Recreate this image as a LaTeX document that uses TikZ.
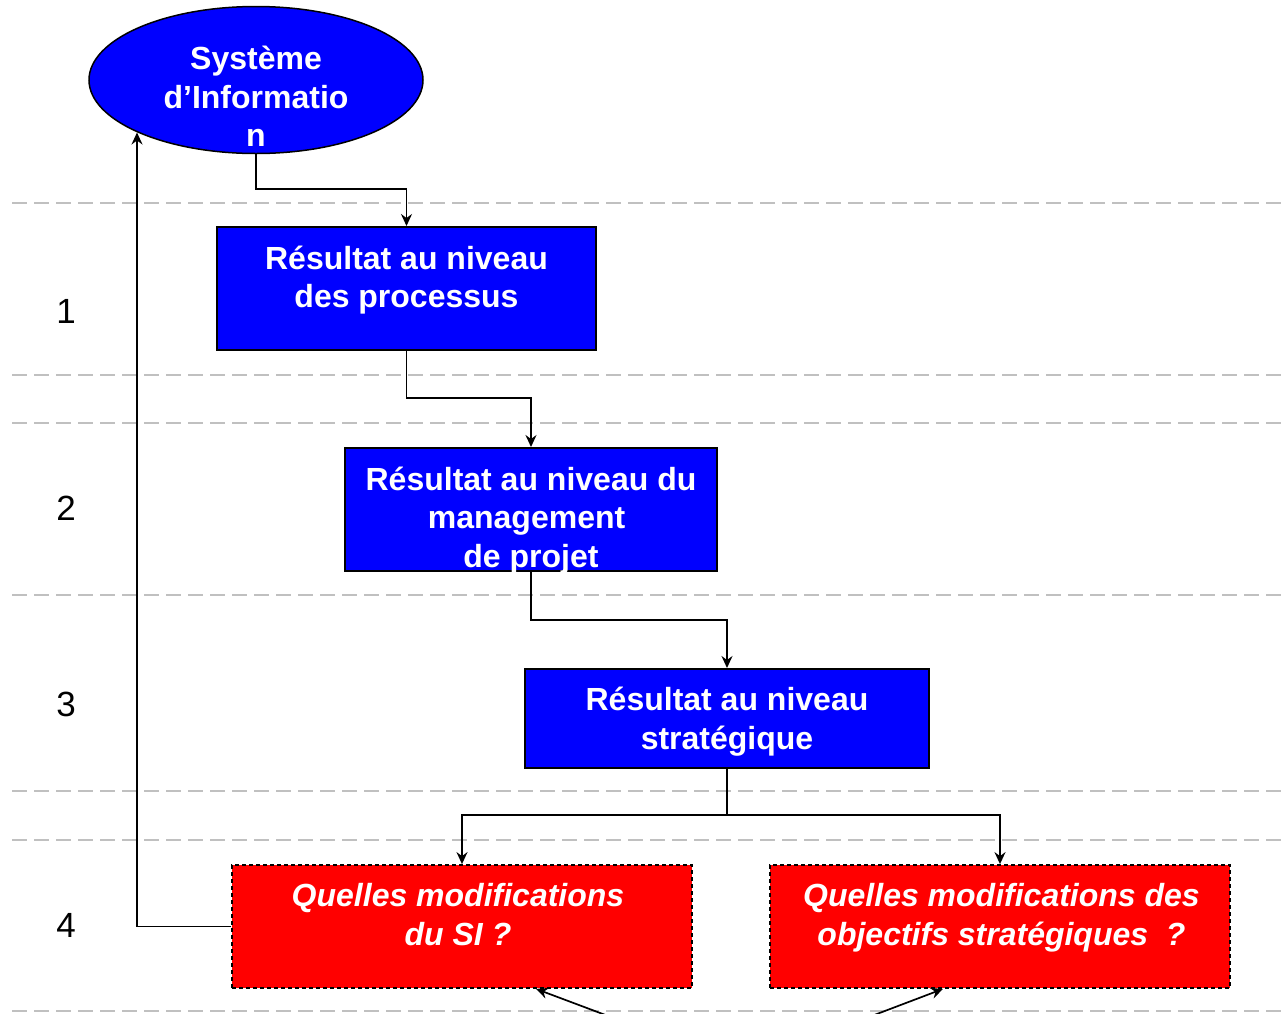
\documentclass[tikz,border=0pt]{standalone}
\usepackage{fontspec}
\setmainfont{Liberation Sans}
\usetikzlibrary{arrows.meta,shapes.geometric,calc}
\definecolor{sepgray}{RGB}{192,192,192}
\begin{document}
\begin{tikzpicture}[x=1pt,y=-1pt,
  sep/.style={draw=sepgray, line width=1.5pt, dash pattern=on 15pt off 7pt},
  bluebox/.style={draw=black, line width=2pt, fill=blue, rectangle, inner sep=0pt},
  redbox/.style={draw=black, line width=1.8pt, dash pattern=on 4pt off 3pt, fill=red, rectangle, inner sep=0pt},
  ell/.style={draw=black, line width=1.5pt, fill=blue, ellipse, inner sep=0pt},
  btxt/.style={text=white, font=\fontsize{32}{38.5}\selectfont\bfseries, align=center, inner sep=0pt},
  rtxt/.style={text=white, font=\fontsize{32}{38.5}\selectfont\bfseries\itshape, align=center, inner sep=0pt},
  num/.style={font=\fontsize{35}{42}\selectfont, inner sep=0pt, anchor=base},
  conn/.style={draw=black, line width=1.7pt, -{Stealth[length=12pt,width=11pt,inset=4pt]}},
]
\useasboundingbox (0,0) rectangle (1283,1013);
\fill[white] (0,0) rectangle (1283,1013);
% separators
\foreach \yy in {203,375,423,595,791,840,1011}
  \draw[sep] (12,\yy) -- (1283,\yy);
% level numbers
\node[num] (n1) at (66,323.5) {1};
\node[num] (n2) at (66,520) {2};
\node[num] (n3) at (66,716) {3};
\node[num] (n4) at (66,937) {4};
% shapes
\node[ell, minimum width=334pt, minimum height=147pt] (si) at (256,80) {};
\node[btxt] (sit) at (256,96.5) {Système\\d’Informatio\\n};
\node[bluebox, minimum width=379pt, minimum height=123pt] (b1) at (406.5,288.5) {};
\node[btxt] (b1t) at (406.5,280) {Résultat au niveau\\des processus};
\node[bluebox, minimum width=372pt, minimum height=123pt] (b2) at (531,509.5) {};
\node[btxt] (b2t) at (531,520.3) {Résultat au niveau du\\management\kern8.8pt\\de projet};
\node[bluebox, minimum width=404pt, minimum height=99pt] (b3) at (727,718.5) {};
\node[btxt] (b3t) at (727,721.8) {Résultat au niveau\\stratégique};
\node[redbox, minimum width=460pt, minimum height=123pt] (r1) at (462,926.5) {};
\node[rtxt] (r1t) at (458,914.5) {Quelles modifications\\du SI ?};
\node[redbox, minimum width=460pt, minimum height=123pt] (r2) at (1000,926.5) {};
\node[rtxt] (r2t) at (1001.5,917.8) {Quelles modifications des\\objectifs stratégiques\ \ ?};
% free ends of the bottom arrows
\coordinate (c1) at (621.5,1021);
\coordinate (c2) at (854.5,1022.5);
% connectors
\draw[conn] (si.south) |- ($(b1.north)+(0,-37)$) -- (b1.north);
\draw[conn] (b1.south) |- ($(b2.north)+(0,-49)$) -- (b2.north);
\draw[conn] (b2.south) |- ($(b3.north)+(0,-48)$) -- (b3.north);
\draw[conn] (b3.south) |- ($(r1.north)+(0,-49)$) -- (r1.north);
\draw[conn] (b3.south) |- ($(r2.north)+(0,-49)$) -- (r2.north);
\draw[conn] (r1.west) -| ($(si.center)+(-119,52.5)$);
\draw[conn] (c1) -- ($(r1.south)+(74,0)$);
\draw[conn] (c2) -- ($(r2.south)+(-57,0)$);
\end{tikzpicture}
\end{document}
